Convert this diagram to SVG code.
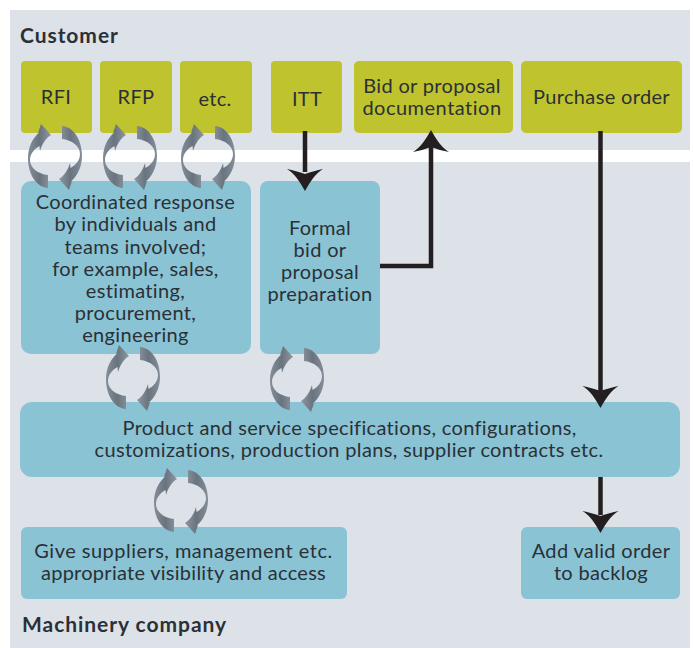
<svg xmlns="http://www.w3.org/2000/svg" xmlns:xlink="http://www.w3.org/1999/xlink" width="694" height="648" viewBox="0 0 694 648">
<style>
.bg{fill:#dde1e8}
.o{fill:#bec32e}
.t{fill:#89c3d4}
text{font-family:"Lato","Noto Sans","Liberation Sans",sans-serif;font-size:20px;letter-spacing:.34px;fill:#2b3036;text-anchor:middle}
text.h{font-weight:700;text-anchor:start;font-size:21px;letter-spacing:.95px}
.c{fill:none;stroke:#231f20;stroke-width:4.500}
.a{fill:#231f20}
</style>
<defs>
<linearGradient id="g" x1="0" y1="0" x2="1" y2="0"><stop offset="0" stop-color="#848e99"/><stop offset=".5" stop-color="#69747f"/><stop offset="1" stop-color="#8d96a1"/></linearGradient>
<g id="cy">
<path id="half" fill="url(#g)" d="M-14-33L-4-22C-9-19-13-13-15-6L-15.500-11C-21-8-25-3-25 3C-25 11-17 17-7 18L-7 31C-19 30-27 17-27 1C-27-10-22-20-15-25L-17-24Z"/>
<use xlink:href="#half" transform="rotate(180)"/>
</g>
<g id="hd"><path class="a" d="M0 0C-5-9-10-17-18-22C-12-21-6-19 0-17C6-19 12-21 18-22C10-17 5-9 0 0Z"/></g>
</defs>
<path class="bg" d="M10 10H690V150H10ZM10 162H690V648H10Z"/>
<text class="h" x="20" y="43">Customer</text>
<text class="h" x="22" y="632">Machinery company</text>
<g id="rfi"><rect class="o" x="21" y="61" width="71" height="72" rx="4"/><text x="56" y="104">RFI</text></g>
<g id="rfp"><rect class="o" x="100" y="61" width="72" height="72" rx="4"/><text x="136" y="104">RFP</text></g>
<g id="etc"><rect class="o" x="180" y="61" width="72" height="72" rx="4"/><text x="215" y="106">etc.</text></g>
<g id="itt"><rect class="o" x="271" y="61" width="71" height="72" rx="4"/><text x="307" y="106">ITT</text></g>
<g id="bid"><rect class="o" x="354" y="61" width="159" height="72" rx="5"/><text x="432" y="93">Bid or proposal</text><text x="432" y="115" style="letter-spacing:.5px">documentation</text></g>
<g id="po"><rect class="o" x="521" y="61" width="161" height="72" rx="5"/><text x="601.500" y="104">Purchase order</text></g>
<g id="coord"><rect class="t" x="21" y="181" width="230" height="173" rx="10"/>
<text x="135.500" y="208.500">Coordinated response</text><text x="135.500" y="231">by individuals and</text><text x="135.500" y="253.500">teams involved;</text><text x="135.500" y="275.500">for example, sales,</text><text x="135.500" y="297.500">estimating,</text><text x="135.500" y="319.500">procurement,</text><text x="135.500" y="341.500">engineering</text></g>
<g id="formal"><rect class="t" x="260" y="181" width="120" height="173" rx="8"/>
<text x="320" y="235">Formal</text><text x="320" y="257">bid or</text><text x="320" y="279">proposal</text><text x="320" y="301">preparation</text></g>
<g id="spec"><rect class="t" x="20" y="402" width="660" height="75" rx="12"/>
<text x="349.500" y="434.500">Product and service specifications, configurations,</text><text x="349" y="457">customizations, production plans, supplier contracts etc.</text></g>
<g id="give"><rect class="t" x="21" y="527" width="326" height="72" rx="6"/>
<text x="183.500" y="558" style="letter-spacing:.48px">Give suppliers, management etc.</text><text x="183.500" y="580" style="letter-spacing:.27px">appropriate visibility and access</text></g>
<g id="add"><rect class="t" x="521" y="527" width="159" height="72" rx="6"/>
<text x="601" y="558">Add valid order</text><text x="601" y="580">to backlog</text></g>
<g id="connectors">
<path class="c" d="M305 131V172"/><use xlink:href="#hd" transform="translate(305 191)"/>
<path class="c" d="M380 266H431V145"/><use xlink:href="#hd" transform="translate(431 130) rotate(180)"/>
<path class="c" d="M600.500 131V392"/><use xlink:href="#hd" transform="translate(600.500 408)"/>
<path class="c" d="M600.500 477V515"/><use xlink:href="#hd" transform="translate(600.500 533)"/>
<use xlink:href="#cy" x="55" y="157"/><use xlink:href="#cy" x="130" y="157"/><use xlink:href="#cy" x="208" y="157"/>
<use xlink:href="#cy" x="133" y="378"/><use xlink:href="#cy" x="297" y="379"/><use xlink:href="#cy" x="181" y="501"/>
</g>
</svg>
